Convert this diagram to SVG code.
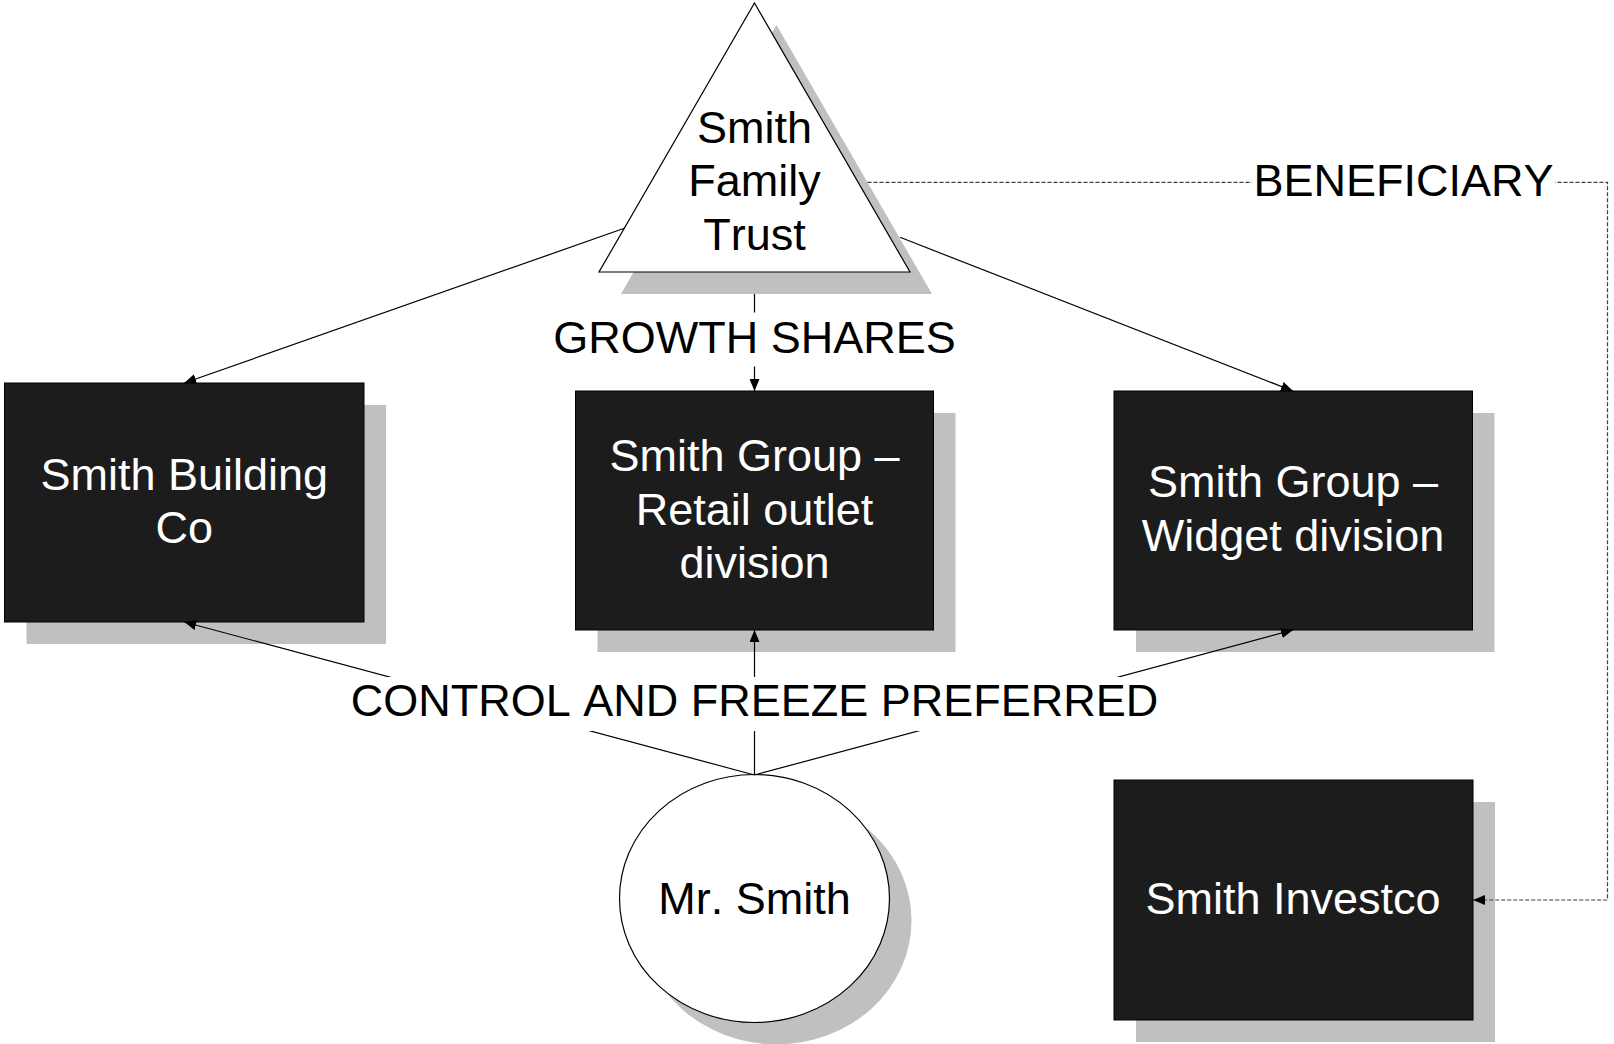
<svg xmlns="http://www.w3.org/2000/svg" width="1614" height="1044" viewBox="0 0 1614 1044">
<style>
  text { font-family: "Liberation Sans", Arial, sans-serif; font-size: 45px; text-anchor: middle; font-kerning: none; }
  .shadow { fill: #c0c0c0; stroke: none; }
  .box { fill: #1c1c1c; stroke: #000; stroke-width: 1; }
  .light { fill: #fff; stroke: #000; stroke-width: 1.2; }
  .wt { fill: #fff; }
  .bt { fill: #000; }
  .conn { stroke: #000; stroke-width: 1.2; fill: none; }
  .dash { stroke: #404040; stroke-width: 1.2; fill: none; stroke-dasharray: 4 2; }
  .lblbg { fill: #fff; stroke: none; }
</style>
<defs>
  <marker id="arr" markerWidth="12" markerHeight="10" refX="12" refY="5" orient="auto" markerUnits="userSpaceOnUse">
    <path d="M0,0 L12,5 L0,10 z" fill="#000"/>
  </marker>
</defs>
<rect width="1614" height="1044" fill="#fff"/>

<g id="trust">
  <polygon class="shadow" points="776.5,25 932,294 621,294"/>
  <polygon class="light" points="754.5,3 910,272 599,272"/>
  <text class="bt" x="754.5" y="142.5">Smith</text>
  <text class="bt" x="754.5" y="196">Family</text>
  <text class="bt" x="754.5" y="249.5">Trust</text>
</g>

<g id="building">
  <rect class="shadow" x="26.5" y="405" width="359.5" height="239"/>
  <rect class="box" x="4.5" y="383" width="359.5" height="239"/>
  <text class="wt" x="184.25" y="490">Smith Building</text>
  <text class="wt" x="184.25" y="543">Co</text>
</g>

<g id="retail">
  <rect class="shadow" x="597.5" y="413" width="358" height="239"/>
  <rect class="box" x="575.5" y="391" width="358" height="239"/>
  <text class="wt" x="754.5" y="471">Smith Group –</text>
  <text class="wt" x="754.5" y="524.5">Retail outlet</text>
  <text class="wt" x="754.5" y="578">division</text>
</g>

<g id="widget">
  <rect class="shadow" x="1136" y="413" width="358.5" height="239"/>
  <rect class="box" x="1114" y="391" width="358.5" height="239"/>
  <text class="wt" x="1293" y="497">Smith Group –</text>
  <text class="wt" x="1293" y="551">Widget division</text>
</g>

<g id="investco">
  <rect class="shadow" x="1136" y="802" width="359" height="240"/>
  <rect class="box" x="1114" y="780" width="359" height="240"/>
  <text class="wt" x="1293" y="914">Smith Investco</text>
</g>

<g id="mrsmith">
  <ellipse class="shadow" cx="776.5" cy="920.5" rx="135" ry="124"/>
  <ellipse class="light" cx="754.5" cy="898.5" rx="135" ry="124"/>
  <text class="bt" x="754.5" y="914">Mr. Smith</text>
</g>

<g id="connectors">
  <line class="conn" x1="624.3" y1="228.3" x2="184.25" y2="383" marker-end="url(#arr)"/>
  <line class="conn" x1="900" y1="237.3" x2="1293" y2="391" marker-end="url(#arr)"/>
  <line class="conn" x1="754.5" y1="294" x2="754.5" y2="391" marker-end="url(#arr)"/>
  <polyline class="dash" points="867.5,182.3 1607.5,182.3 1607.5,900 1473,900" marker-end="url(#arr)"/>
  <line class="conn" x1="754.5" y1="775" x2="184.25" y2="622" marker-end="url(#arr)"/>
  <line class="conn" x1="754.5" y1="775" x2="754.5" y2="630" marker-end="url(#arr)"/>
  <line class="conn" x1="754.5" y1="775" x2="1293" y2="630" marker-end="url(#arr)"/>
  <rect class="lblbg" x="551" y="312.5" width="407" height="54"/>
  <text class="bt" x="754.5" y="352.5">GROWTH SHARES</text>
  <rect class="lblbg" x="1252" y="160" width="303" height="45"/>
  <text class="bt" x="1403.5" y="196">BENEFICIARY</text>
  <rect class="lblbg" x="348" y="677" width="813" height="54"/>
  <text class="bt" x="754.5" y="716">CONTROL AND FREEZE PREFERRED</text>
</g>
</svg>
